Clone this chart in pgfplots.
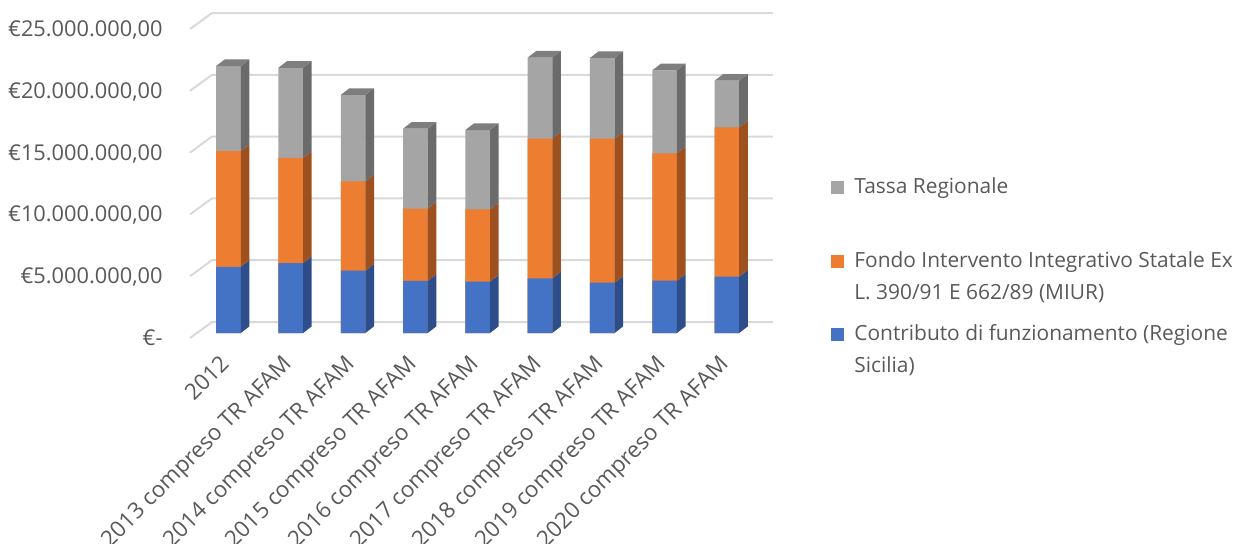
\documentclass[border=0pt]{standalone}
\usepackage{fontspec}
\setmainfont{Open Sans}
\usepackage{pgfplots}
\usepackage{pgfplotstable}
\pgfplotsset{compat=1.18}

\definecolor{txt}{HTML}{595959}
\definecolor{gridc}{HTML}{D9D9D9}
\definecolor{blueF}{HTML}{4472C4}
\definecolor{blueS}{HTML}{2D4E8A}
\definecolor{orangeF}{HTML}{ED7D31}
\definecolor{orangeS}{HTML}{9E501F}
\definecolor{grayF}{HTML}{A5A5A5}
\definecolor{grayS}{HTML}{6B6B6B}
\definecolor{grayT}{HTML}{7E7E7E}

% importi in milioni di euro
\pgfplotstableread{
x contributo fondo tassa
0 5.36  9.36 6.88
1 5.66  8.50 7.30
2 5.04  7.23 6.99
3 4.21  5.85 6.47
4 4.15  5.86 6.41
5 4.42 11.30 6.56
6 4.07 11.65 6.53
7 4.23 10.31 6.71
8 4.56 12.08 3.77
}\fin

% depth of the pseudo-3D blocks (x in categories, y in millions) and half width
\def\dx{0.138}
\def\dy{0.54}
\def\hw{0.198}

\begin{document}
\fontsize{10.45}{14.5}\selectfont
\color{txt}
\begin{tikzpicture}
\begin{axis}[
  at={(0pt,0pt)}, anchor=origin,
  x=31.15pt, y=6.18pt,
  xmin=-1.0514, xmax=8.8, ymin=-2.43, ymax=26,
  clip=false,
  axis line style={draw=none},
  major tick length=0pt,
  xtick={0,...,8},
  xticklabels={2012, 2013 compreso TR AFAM, 2014 compreso TR AFAM, 2015 compreso TR AFAM, 2016 compreso TR AFAM, 2017 compreso TR AFAM, 2018 compreso TR AFAM, 2019 compreso TR AFAM, 2020 compreso TR AFAM},
  xticklabel style={xshift=-4.5pt, yshift=5pt, rotate=45, anchor=north east,
    inner sep=0pt, font=\fontsize{11.2}{13}\selectfont},
  ytick={0,5,...,25},
  yticklabels={{€-\hspace{5.5pt}}, {€5.000.000,00}, {€10.000.000,00}, {€15.000.000,00}, {€20.000.000,00}, {€25.000.000,00}},
  yticklabel style={anchor=base east, inner sep=0pt, yshift=-6.25pt,
    font=\fontsize{10.9}{13}\selectfont},
  legend style={at={(1.0884,0.5516)}, anchor=north west, draw=none, fill=none,
    inner sep=0pt, row sep=0pt, column sep=3pt,
    font=\fontsize{10.45}{14.5}\selectfont,
    cells={anchor=base west, inner sep=0pt}},
  legend image code/.code={\fill[#1] (0pt,0pt) rectangle (6.5pt,6.5pt);},
]
% back wall and side wall gridlines
\addplot[gridc, line width=1pt, forget plot] coordinates {(-0.618,-0.405) (-0.265,0.889) (8.74,0.889)};
\addplot[gridc, line width=1pt, forget plot] coordinates {(-0.618,4.595) (-0.265,5.889) (8.74,5.889)};
\addplot[gridc, line width=1pt, forget plot] coordinates {(-0.618,9.595) (-0.265,10.889) (8.74,10.889)};
\addplot[gridc, line width=1pt, forget plot] coordinates {(-0.618,14.595) (-0.265,15.889) (8.74,15.889)};
\addplot[gridc, line width=1pt, forget plot] coordinates {(-0.618,19.595) (-0.265,20.889) (8.74,20.889)};
\addplot[gridc, line width=1pt, forget plot] coordinates {(-0.618,24.595) (-0.265,25.889) (8.74,25.889)};

% front faces, painted from the full stack down to the first series
\addplot[ybar, bar width=0.396, bar shift=0pt, fill=grayF, draw=none]
  table[x=x, y expr=\thisrow{contributo}+\thisrow{fondo}+\thisrow{tassa}]{\fin};
\addlegendentry{\strut Tassa Regionale}
\addplot[ybar, bar width=0.396, bar shift=0pt, fill=orangeF, draw=none]
  table[x=x, y expr=\thisrow{contributo}+\thisrow{fondo}]{\fin};
\addlegendentry{\rule{0pt}{31.4pt}Fondo Intervento Integrativo Statale Ex}
\addlegendimage{empty legend}
\addlegendentry{\strut L. 390/91 E 662/89 (MIUR)}
\addplot[ybar, bar width=0.396, bar shift=0pt, fill=blueF, draw=none]
  table[x=x, y=contributo]{\fin};
\addlegendentry{\rule{0pt}{15.2pt}Contributo di funzionamento (Regione}
\addlegendimage{empty legend}
\addlegendentry{\strut Sicilia)}

% side and top faces of each block
\pgfplotsforeachungrouped \i in {0,...,8}{%
  \pgfplotstablegetelem{\i}{contributo}\of\fin\let\vc=\pgfplotsretval
  \pgfplotstablegetelem{\i}{fondo}\of\fin\let\vf=\pgfplotsretval
  \pgfplotstablegetelem{\i}{tassa}\of\fin\let\vt=\pgfplotsretval
  \pgfmathsetmacro\xl{\i-\hw}%
  \pgfmathsetmacro\xr{\i+\hw}%
  \pgfmathsetmacro\xlb{\i-\hw+\dx}%
  \pgfmathsetmacro\xrb{\i+\hw+\dx}%
  \pgfmathsetmacro\ya{\vc}%
  \pgfmathsetmacro\yb{\vc+\vf}%
  \pgfmathsetmacro\yc{\vc+\vf+\vt}%
  \pgfmathsetmacro\yab{\ya+\dy}%
  \pgfmathsetmacro\ybb{\yb+\dy}%
  \pgfmathsetmacro\ycb{\yc+\dy}%
  \edef\faces{%
    \noexpand\addplot[fill=blueS, draw=none, forget plot] coordinates {(\xr,0) (\xrb,\dy) (\xrb,\yab) (\xr,\ya)} -- cycle;
    \noexpand\addplot[fill=orangeS, draw=none, forget plot] coordinates {(\xr,\ya) (\xrb,\yab) (\xrb,\ybb) (\xr,\yb)} -- cycle;
    \noexpand\addplot[fill=grayS, draw=none, forget plot] coordinates {(\xr,\yb) (\xrb,\ybb) (\xrb,\ycb) (\xr,\yc)} -- cycle;
    \noexpand\addplot[fill=grayT, draw=none, forget plot] coordinates {(\xl,\yc) (\xr,\yc) (\xrb,\ycb) (\xlb,\ycb)} -- cycle;
  }\faces
}
\end{axis}
\pgfresetboundingbox
\path (-114.25pt,-105pt) rectangle (503.75pt,166.5pt);
\end{tikzpicture}
\end{document}
